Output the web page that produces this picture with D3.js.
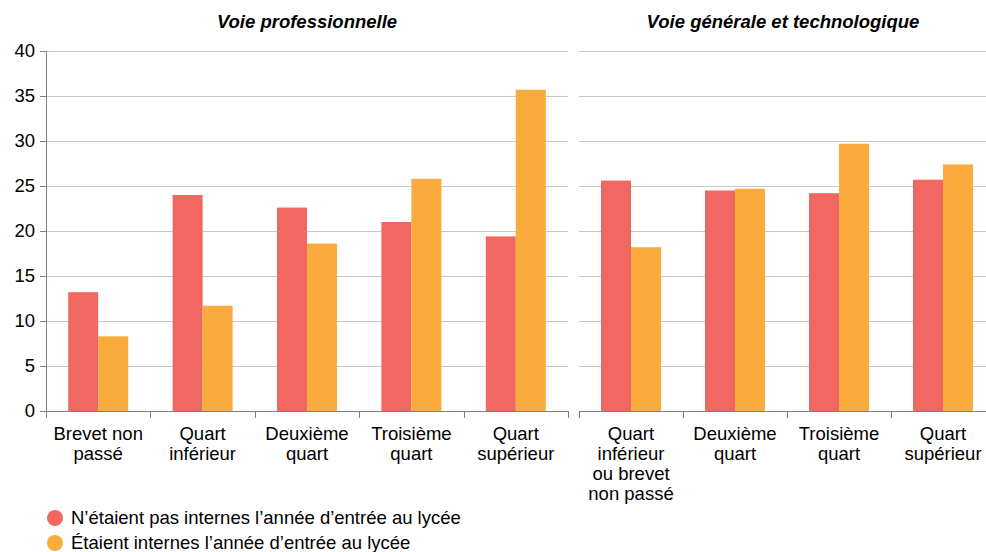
<!DOCTYPE html>
<html>
<head>
<meta charset="utf-8">
<script src="https://d3js.org/d3.v7.min.js"></script>
<style>
  body { margin: 0; background: white; }
  svg text { font-family: "Liberation Sans", Arial, sans-serif; fill: #000; }
  .gridlines line { stroke: #c8c8c8; }
</style>
</head>
<body>
<svg id="chart" width="986" height="552"></svg>
<script>
  // data
  const series = ["N’étaient pas internes l’année d’entrée au lycée", "Étaient internes l’année d’entrée au lycée"];
  const colors = ["#f06861", "#f9ab3e"];

  const proCats = [["Brevet non", "passé"], ["Quart", "inférieur"], ["Deuxième", "quart"], ["Troisième", "quart"], ["Quart", "supérieur"]];
  const proNonInternes = [13.2, 24.0, 22.6, 21.0, 19.4];
  const proInternes = [8.3, 11.7, 18.6, 25.8, 35.7];

  const gtCats = [["Quart", "inférieur", "ou brevet", "non passé"], ["Deuxième", "quart"], ["Troisième", "quart"], ["Quart", "supérieur"]];
  const gtNonInternes = [25.6, 24.5, 24.2, 25.7];
  const gtInternes = [18.2, 24.7, 29.7, 27.4];

  const yTicks = [0, 5, 10, 15, 20, 25, 30, 35, 40];

  const fs = "18.5px";
  const svg = d3.select("#chart");
  const y = d3.scaleLinear().domain([0, 40]).range([411, 51]);

  const panels = [
    { title: "Voie professionnelle", cats: proCats, vals: [proNonInternes, proInternes], range: [46, 568], cx: 307 },
    { title: "Voie générale et technologique", cats: gtCats, vals: [gtNonInternes, gtInternes], range: [579, 995], cx: 783 }
  ];

  // gridlines, one block per panel
  panels.forEach(p => {
    svg.append("g")
      .attr("class", "gridlines")
      .attr("transform", `translate(${p.range[0]},0)`)
      .call(d3.axisLeft(y).tickValues(yTicks.slice(1)).tickSize(-(p.range[1] - p.range[0])).tickSizeOuter(0).tickFormat(""))
      .call(g => g.select(".domain").remove());
  });

  const yAxis = svg.append("g")
    .attr("transform", "translate(46,0)")
    .call(d3.axisLeft(y).tickValues(yTicks).tickSize(6).tickSizeOuter(0).tickPadding(5));
  yAxis.selectAll("text").style("font-size", fs);
  yAxis.selectAll("line, path").attr("stroke", "#808080");

  panels.forEach(p => {
    const names = p.cats.map(c => c.join(" "));
    const x0 = d3.scaleBand().domain(names).range(p.range).padding(0);
    const bw = x0.bandwidth();
    const x1 = d3.scaleBand().domain([0, 1]).range([bw / 2 - 30, bw / 2 + 30]).padding(0);

    const g = svg.append("g");
    names.forEach((n, i) => {
      [0, 1].forEach(s => {
        g.append("rect")
          .attr("x", x0(n) + x1(s))
          .attr("width", x1.bandwidth())
          .attr("y", y(p.vals[s][i]))
          .attr("height", y(0) - y(p.vals[s][i]))
          .attr("fill", colors[s]);
      });
    });

    // baseline and category separators
    const ax = svg.append("g").attr("stroke", "#808080").attr("stroke-width", 1);
    ax.append("line").attr("x1", p.range[0]).attr("x2", p.range[1]).attr("y1", 411.5).attr("y2", 411.5);
    const edges = names.map(n => x0(n)).concat([p.range[1]]);
    edges.forEach(e => {
      ax.append("line").attr("x1", Math.round(e) + 0.5).attr("x2", Math.round(e) + 0.5).attr("y1", 411).attr("y2", 418);
    });

    // category labels
    names.forEach((n, i) => {
      const t = svg.append("text")
        .attr("x", x0(n) + bw / 2)
        .attr("y", 440)
        .attr("text-anchor", "middle")
        .style("font-size", fs);
      p.cats[i].forEach((line, k) => {
        t.append("tspan").attr("x", x0(n) + bw / 2).attr("dy", k === 0 ? 0 : 20).text(line);
      });
    });

    // panel title
    svg.append("text")
      .attr("x", p.cx)
      .attr("y", 28)
      .attr("text-anchor", "middle")
      .style("font-size", fs)
      .style("font-weight", "bold")
      .style("font-style", "italic")
      .text(p.title);
  });

  // legend
  const legend = svg.append("g");
  series.forEach((s, i) => {
    legend.append("circle").attr("cx", 55).attr("cy", 518 + i * 25).attr("r", 8).attr("fill", colors[i]);
    legend.append("text").attr("x", 71).attr("y", 524 + i * 25).style("font-size", fs).text(s);
  });
</script>
</body>
</html>
